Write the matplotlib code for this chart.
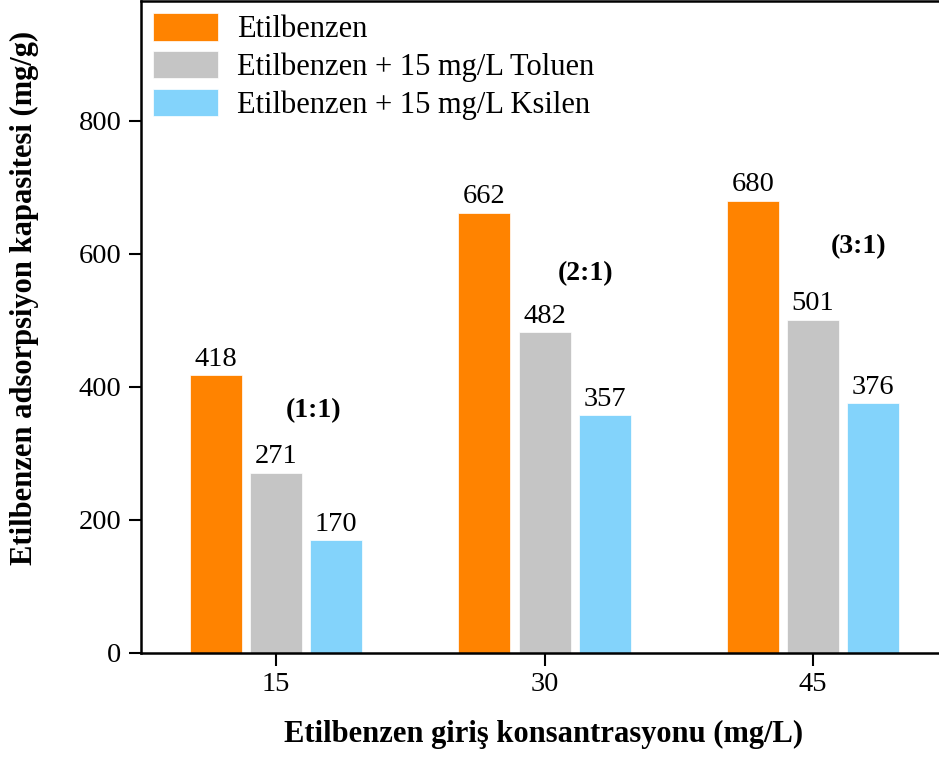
import numpy as np
import matplotlib
matplotlib.use("Agg")
import matplotlib.pyplot as plt

plt.rcParams['font.family'] = ['Liberation Serif', 'DejaVu Serif']

concs = ["15", "30", "45"]
series = ["Etilbenzen", "Etilbenzen + 15 mg/L Toluen", "Etilbenzen + 15 mg/L Ksilen"]
etil = [418, 662, 680]
etil_tol = [271, 482, 501]
etil_ksi = [170, 357, 376]
ratios = ["(1:1)", "(2:1)", "(3:1)"]
ratio_x = [0.14, 1.153, 2.17]   # where the ratio labels sit
ratio_y = [365, 571, 611]
colors = ["#FF8300", "#C5C5C5", "#83D3FB"]

fig = plt.figure(figsize=(9.39, 7.6), dpi=100)
ax = fig.add_axes([141/939, 107/760, 806/939, 652/760])

x = np.arange(len(concs))
w = 0.194
step = 0.224
for i, (vals, name) in enumerate(zip([etil, etil_tol, etil_ksi], series)):
    bars = ax.bar(x + (i - 1)*step, vals, w, color=colors[i], label=name, edgecolor='white', linewidth=0.5)
    for b, v in zip(bars, vals):
        ax.text(b.get_x() + b.get_width()/2, v + 5, str(v), ha='center', va='bottom', fontsize=20.5)

for rx, r, ry in zip(ratio_x, ratios, ratio_y):
    ax.text(rx, ry, r, ha='center', va='center', fontsize=20, fontweight='bold')

ax.set_xlim(-0.504, 2.5)
ax.set_ylim(0, 980)
ax.set_yticks([0, 200, 400, 600, 800])
ax.set_xticks(x)
ax.set_xticklabels(concs)
ax.tick_params(labelsize=20.5, width=1.5, length=9, pad=5, direction='out')
for s in ax.spines.values():
    s.set_linewidth(1.8)

ax.set_xlabel("Etilbenzen giriş konsantrasyonu (mg/L)", fontsize=22, fontweight='bold', labelpad=16)
ax.set_ylabel("Etilbenzen adsorpsiyon kapasitesi (mg/g)", fontsize=22, fontweight='bold')
ax.yaxis.set_label_coords(-0.127, 0.545)

ax.legend(loc='upper left', frameon=False, fontsize=22, handlelength=2.13, handleheight=1.0,
          borderaxespad=0.2, borderpad=0.2, labelspacing=0.22, handletextpad=0.62)

fig.savefig("out.png", dpi=100)
